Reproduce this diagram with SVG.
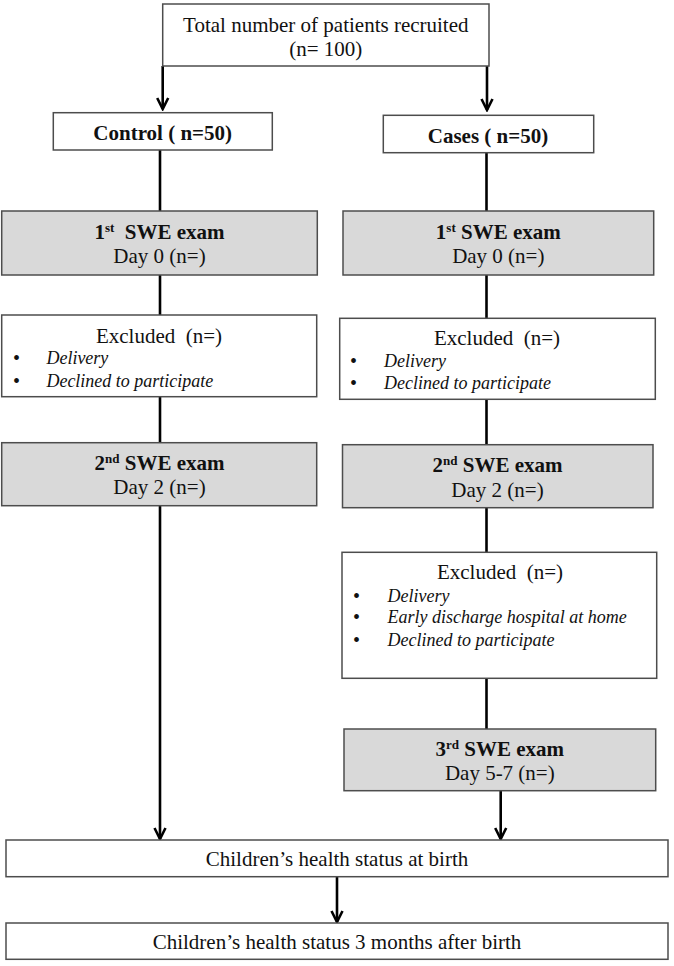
<svg xmlns="http://www.w3.org/2000/svg" width="674" height="966" viewBox="0 0 674 966">
<style>
text{font-family:"Liberation Serif","Times New Roman",serif;fill:#111;}
.t{font-size:21px;text-anchor:middle;}
.b{font-weight:bold;}
.i{font-size:18px;font-style:italic;}
.bul{font-size:20px;}
.sup{font-size:13px;}
.box{fill:#fff;stroke:#4d4d4d;stroke-width:1.5;}
.gray{fill:#d9d9d9;stroke:#4d4d4d;stroke-width:1.5;}
.ln{stroke:#000;stroke-width:2.6;fill:none;}
</style>
<defs>
<marker id="arr" markerUnits="userSpaceOnUse" viewBox="-13 -8 15 16" refX="0" refY="0" markerWidth="15" markerHeight="16" orient="auto">
<path d="M-11,-5.5 L0,0 L-11,5.5" fill="none" stroke="#000" stroke-width="2.6"/>
</marker>
</defs>
<rect width="674" height="966" fill="#fff"/>
<g id="connectors">
<line class="ln" x1="162.7" y1="66" x2="162.7" y2="109" marker-end="url(#arr)"/>
<line class="ln" x1="487" y1="66" x2="487" y2="110" marker-end="url(#arr)"/>
<line class="ln" x1="160" y1="150" x2="160" y2="211"/>
<line class="ln" x1="160" y1="275" x2="160" y2="315"/>
<line class="ln" x1="160" y1="396.7" x2="160" y2="442.7"/>
<line class="ln" x1="160" y1="505.7" x2="160" y2="839" marker-end="url(#arr)"/>
<line class="ln" x1="486.5" y1="152.7" x2="486.5" y2="211"/>
<line class="ln" x1="486.5" y1="275" x2="486.5" y2="318.3"/>
<line class="ln" x1="486.5" y1="399.3" x2="486.5" y2="444.7"/>
<line class="ln" x1="486.5" y1="507.7" x2="486.5" y2="552.3"/>
<line class="ln" x1="486.5" y1="678.3" x2="486.5" y2="729"/>
<line class="ln" x1="500.7" y1="790.7" x2="500.7" y2="839" marker-end="url(#arr)"/>
<line class="ln" x1="337" y1="876.7" x2="337" y2="922" marker-end="url(#arr)"/>
</g>
<g id="total">
<rect class="box" x="162.7" y="4" width="326.3" height="62"/>
<text class="t" x="325.8" y="32">Total number of patients recruited</text>
<text class="t" x="325.8" y="55.5">(n= 100)</text>
</g>
<g id="control">
<rect class="box" x="53.3" y="112.7" width="219" height="37.3"/>
<text class="t b" x="162.7" y="140">Control ( n=50)</text>
</g>
<g id="cases">
<rect class="box" x="383.3" y="115.3" width="210.4" height="37.4"/>
<text class="t b" x="488" y="142.5">Cases ( n=50)</text>
</g>
<g id="swe1-control">
<rect class="gray" x="1.7" y="211" width="315.6" height="64"/>
<text class="t b" x="159.5" y="239" xml:space="preserve">1<tspan class="sup" dy="-7">st</tspan><tspan dy="7">  SWE exam</tspan></text>
<text class="t" x="159.5" y="263.3">Day 0 (n=)</text>
</g>
<g id="swe1-cases">
<rect class="gray" x="343" y="211" width="310.7" height="64"/>
<text class="t b" x="498.3" y="239" xml:space="preserve">1<tspan class="sup" dy="-7">st</tspan><tspan dy="7"> SWE exam</tspan></text>
<text class="t" x="498.3" y="263.3">Day 0 (n=)</text>
</g>
<g id="excl1-control">
<rect class="box" x="1.7" y="315" width="315" height="81.7"/>
<text class="t" x="159" y="342.7" xml:space="preserve">Excluded  (n=)</text>
<text class="bul" x="13" y="365">•</text>
<text class="i" x="46.4" y="364.3">Delivery</text>
<text class="bul" x="13" y="387.5">•</text>
<text class="i" x="46.4" y="386.7">Declined to participate</text>
</g>
<g id="excl1-cases">
<rect class="box" x="339.7" y="318.3" width="315.6" height="81"/>
<text class="t" x="497" y="345" xml:space="preserve">Excluded  (n=)</text>
<text class="bul" x="350" y="367.5">•</text>
<text class="i" x="384" y="366.7">Delivery</text>
<text class="bul" x="350" y="390">•</text>
<text class="i" x="384" y="389.3">Declined to participate</text>
</g>
<g id="swe2-control">
<rect class="gray" x="1.7" y="442.7" width="315" height="63"/>
<text class="t b" x="159.5" y="470" xml:space="preserve">2<tspan class="sup" dy="-7">nd</tspan><tspan dy="7"> SWE exam</tspan></text>
<text class="t" x="159.5" y="494.3">Day 2 (n=)</text>
</g>
<g id="swe2-cases">
<rect class="gray" x="342.5" y="444.7" width="310.5" height="63"/>
<text class="t b" x="497.5" y="472" xml:space="preserve">2<tspan class="sup" dy="-7">nd</tspan><tspan dy="7"> SWE exam</tspan></text>
<text class="t" x="497.5" y="496.7">Day 2 (n=)</text>
</g>
<g id="excl2-cases">
<rect class="box" x="342" y="552.3" width="314.7" height="126"/>
<text class="t" x="500" y="579.3" xml:space="preserve">Excluded  (n=)</text>
<text class="bul" x="353" y="602.5">•</text>
<text class="i" x="387.5" y="601.7">Delivery</text>
<text class="bul" x="353" y="624">•</text>
<text class="i" x="387.5" y="623.3">Early discharge hospital at home</text>
<text class="bul" x="353" y="646.5">•</text>
<text class="i" x="387.5" y="645.7">Declined to participate</text>
</g>
<g id="swe3-cases">
<rect class="gray" x="344" y="729" width="311.7" height="61.7"/>
<text class="t b" x="499.8" y="756" xml:space="preserve">3<tspan class="sup" dy="-7">rd</tspan><tspan dy="7"> SWE exam</tspan></text>
<text class="t" x="499.8" y="780">Day 5-7 (n=)</text>
</g>
<g id="birth">
<rect class="box" x="6" y="840" width="662" height="36.7"/>
<text class="t" x="337" y="866">Children’s health status at birth</text>
</g>
<g id="three-months">
<rect class="box" x="6" y="923" width="662" height="36.3"/>
<text class="t" x="337" y="949">Children’s health status 3 months after birth</text>
</g>
</svg>
